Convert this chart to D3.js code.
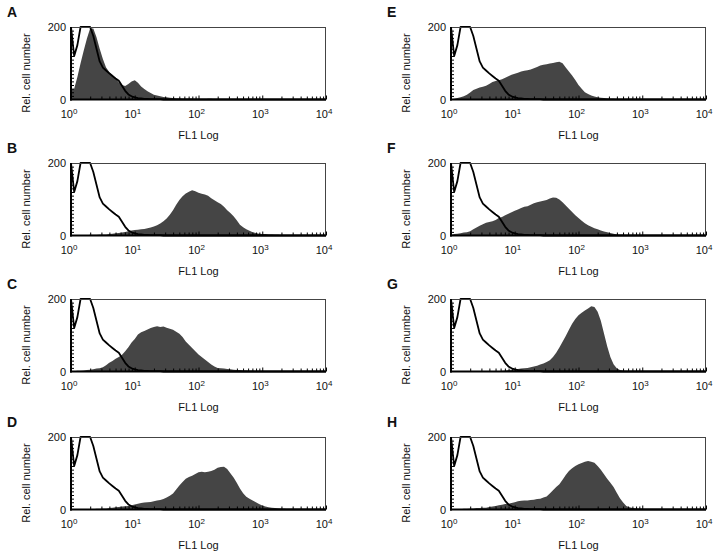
<!DOCTYPE html>
<html><head><meta charset="utf-8">
<script src="https://cdn.jsdelivr.net/npm/d3@7"></script>
<style>body{margin:0;background:#fff}svg{display:block}text{font-family:"Liberation Sans",Arial,Helvetica,sans-serif;fill:#111}</style>
</head><body>
<script>
// FL1 channels: log10 positions 0..4 in steps of 0.05 (81 bins)
const binStep = 0.05;
const nBins = 81;
const panelLetters = ["A","B","C","D","E","F","G","H"];
const xTickLabels = ["0","1","2","3","4"];
const yTickValues = [0, 200];
// unstained control (open histogram), same in all panels
const control = [200,120,150,200,200,200,200,175,140,105,88,80,72,65,58,52,38,24,14,9,6,4,3,2,2,1,1,1,1];
// stained samples (filled histograms)
const sampleA = [28,30,62,100,135,168,196,196,172,140,112,88,76,68,58,47,40,37,43,50,53,46,36,29,23,18,13,11,9,7,6,5,4,3,3,2,2,2,2,1,1,1,1,2,2,1,1,1,1,1,1];
const sampleB = [0,0,0,1,1,1,2,2,2,3,3,3,4,5,6,7,8,10,12,14,15,16,17,18,20,22,25,28,33,39,47,57,70,85,98,108,116,121,125,122,118,115,113,110,103,97,92,87,79,70,62,53,42,30,23,17,13,9,7,5,4,4,3,3,2,2,1,1,1,1,1,1,1];
const sampleC = [1,1,2,2,3,4,5,6,8,9,12,17,24,29,35,40,46,56,67,80,90,102,108,112,116,120,123,125,123,124,121,118,115,110,104,95,83,74,65,56,47,40,33,26,19,14,10,9,8,7,6,5,4,4,3,3,2,2,1,1,1];
const sampleD = [0,0,0,0,0,0,1,1,2,2,3,3,4,5,6,7,8,9,10,12,14,16,18,19,20,21,23,25,26,29,33,38,44,55,66,76,85,90,93,98,103,104,103,104,106,110,115,117,118,112,100,88,74,58,45,35,30,25,20,15,11,8,6,5,4,3,2,2,1,1,1,1];
const sampleE = [1,2,4,6,9,13,19,26,30,33,35,38,43,48,51,53,56,60,64,68,71,74,77,79,81,83,86,90,94,96,97,99,101,103,104,100,88,77,66,54,40,30,20,15,11,8,6,5,4,3,2,2,1,1,1];
const sampleF = [2,4,5,6,8,9,12,17,22,27,31,35,37,39,43,48,51,56,60,64,68,72,76,79,81,85,89,92,94,96,98,102,105,104,99,92,83,74,65,56,48,41,34,28,24,20,17,14,11,9,7,5,3,2,2,1,1,1];
const sampleG = [0,0,0,0,0,0,1,1,1,1,1,1,1,1,1,1,2,3,4,5,6,7,8,9,10,12,14,16,19,22,26,31,40,52,66,82,98,115,132,145,155,162,168,174,180,178,165,140,105,70,40,20,9,4,2,1,1];
const sampleH = [0,1,1,1,2,2,3,3,4,4,5,5,7,8,10,12,13,15,16,18,20,23,24,25,25,26,27,29,30,33,36,44,53,62,70,82,95,106,114,120,125,128,132,134,132,129,120,110,97,85,74,62,46,31,19,10,6,4,3,2,2,1,1,1,1];
const samples = [sampleA,sampleB,sampleC,sampleD,sampleE,sampleF,sampleG,sampleH];

const W = 719, H = 553;
const colLeft = [71, 451], plotW = 255;
const rowTop = [27, 163, 299, 437], plotH = 72.5;

const svg = d3.select("body").append("svg").attr("width", W).attr("height", H);

function toBins(arr){
  return d3.range(nBins).map(i => ({x: Math.pow(10, i*binStep), y: i < arr.length ? arr[i] : 0}));
}

panelLetters.forEach((letter, p) => {
  const col = Math.floor(p/4), row = p % 4;
  const x0 = colLeft[col], y0 = rowTop[row];
  const g = svg.append("g").attr("transform", `translate(${x0},${y0})`);
  const x = d3.scaleLog().domain([1, 1e4]).range([0, plotW]);
  const y = d3.scaleLinear().domain([0, 200]).range([plotH, 0]).clamp(true);

  const fillData = toBins(samples[p]);
  const ctrlData = toBins(control);

  g.append("path").datum(fillData)
    .attr("d", d3.area().x(d => x(d.x)).y0(plotH).y1(d => y(d.y)))
    .attr("fill", "#454545");

  g.append("path").datum(ctrlData)
    .attr("d", d3.line().x(d => x(d.x)).y(d => y(d.y)))
    .attr("fill", "none").attr("stroke", "#000").attr("stroke-width", 1.8).attr("stroke-linejoin", "round");

  // frame: top/right thin
  g.append("line").attr("x1",0).attr("x2",plotW).attr("y1",0.5).attr("y2",0.5).attr("stroke","#444").attr("stroke-width",1);
  g.append("line").attr("x1",plotW-0.5).attr("x2",plotW-0.5).attr("y1",0).attr("y2",plotH).attr("stroke","#444").attr("stroke-width",1);

  // x axis with inward ticks
  const minor = [];
  for (let e = 0; e < 4; e++) for (let m = 2; m <= 9; m++) minor.push(m*Math.pow(10,e));
  g.append("g").attr("transform", `translate(0,${plotH})`)
    .call(d3.axisTop(x).tickValues(minor).tickSize(3).tickFormat(""))
    .call(a => a.select(".domain").remove())
    .call(a => a.selectAll("line").attr("stroke","#000"));
  const xMajor = g.append("g").attr("transform", `translate(0,${plotH})`)
    .call(d3.axisTop(x).tickValues([1,10,100,1000,10000]).tickSize(4).tickFormat(""));
  xMajor.select(".domain").remove();
  g.append("line").attr("x1",-1).attr("x2",plotW).attr("y1",plotH).attr("y2",plotH).attr("stroke","#000").attr("stroke-width",2);

  // tick labels 10^n
  const labels = g.append("g");
  xTickLabels.forEach((t, i) => {
    const tx = labels.append("text").attr("x", x(Math.pow(10, i)) - 2).attr("y", plotH + 18)
      .attr("text-anchor","middle").attr("font-size", 11);
    tx.append("tspan").text("10");
    tx.append("tspan").attr("dy", -4).attr("font-size", 8).text(t);
  });
  g.append("text").attr("x", plotW/2).attr("y", plotH + 39).attr("text-anchor","middle")
    .attr("font-size", 11).text("FL1 Log");

  // y axis: inward minor ticks every 10
  g.append("g")
    .call(d3.axisRight(y).tickValues(d3.range(10, 200, 10)).tickSize(3).tickFormat(""))
    .call(a => a.select(".domain").remove());
  g.append("line").attr("x1",0).attr("x2",0).attr("y1",0).attr("y2",plotH+1).attr("stroke","#000").attr("stroke-width",2);
  yTickValues.forEach(v => {
    g.append("text").attr("x", -5).attr("y", y(v) + 4).attr("text-anchor","end")
      .attr("font-size", 11).text(v);
  });
  g.append("text").attr("transform", `translate(${-41},${46}) rotate(-90)`)
    .attr("text-anchor","middle").attr("font-size", 11).text("Rel. cell number");

  // panel letter
  svg.append("text").attr("x", x0 - 64).attr("y", y0 - 10).attr("font-size", 14)
    .attr("font-weight","bold").text(letter);
});
</script>
</body></html>
